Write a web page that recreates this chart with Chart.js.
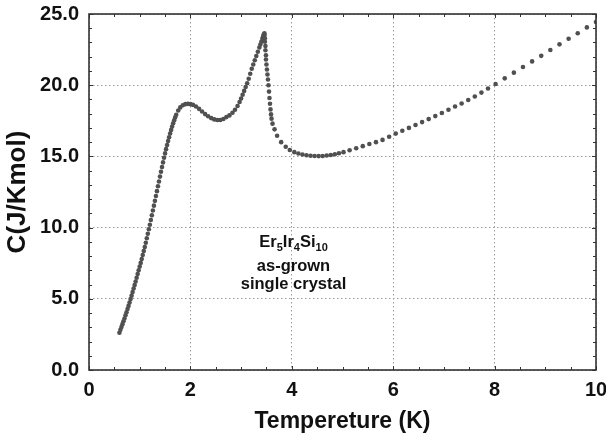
<!DOCTYPE html>
<html>
<head>
<meta charset="utf-8">
<script src="https://cdn.jsdelivr.net/npm/chart.js@4.4.1/dist/chart.umd.min.js"></script>
<style>
  html, body { margin: 0; padding: 0; background: #fff; }
  #wrap { width: 606px; height: 434px; position: relative; }
</style>
</head>
<body>
<div id="wrap"><canvas id="grafico"></canvas></div>
<script>
// temperatura (K) e calor especifico C (J/Kmol)
var temperatura = [
  0.60, 0.62, 0.64, 0.66, 0.68, 0.70, 0.72, 0.74, 0.76, 0.78, 0.80, 0.82, 0.84, 0.86, 0.88, 0.90,
  0.92, 0.94, 0.96, 0.98, 1.00, 1.02, 1.04, 1.06, 1.08, 1.10, 1.12, 1.14, 1.16, 1.18, 1.20, 1.22,
  1.24, 1.26, 1.28, 1.30, 1.32, 1.34, 1.36, 1.38, 1.40, 1.42, 1.44, 1.46, 1.48, 1.50, 1.52, 1.54,
  1.56, 1.58, 1.60, 1.62, 1.64, 1.66, 1.68, 1.70, 1.72, 1.76, 1.80, 1.85, 1.90, 1.95, 2.00, 2.05,
  2.11, 2.17, 2.23, 2.29, 2.35, 2.41, 2.47, 2.53, 2.59, 2.65, 2.71, 2.77, 2.83, 2.88, 2.93, 2.97,
  3.00, 3.03, 3.06, 3.09, 3.12, 3.15, 3.18, 3.21, 3.24, 3.27, 3.30, 3.33, 3.36, 3.38, 3.40, 3.42,
  3.43, 3.44, 3.45, 3.46, 3.46, 3.47, 3.47, 3.48, 3.48, 3.49, 3.49, 3.50, 3.51, 3.52, 3.53, 3.54,
  3.55, 3.56, 3.57, 3.58, 3.59, 3.60, 3.62, 3.66, 3.71, 3.79, 3.88, 3.96, 4.05, 4.13, 4.21, 4.29,
  4.37, 4.45, 4.53, 4.61, 4.69, 4.77, 4.85, 4.93, 5.02, 5.14, 5.27, 5.40, 5.53, 5.66, 5.79, 5.92,
  6.05, 6.18, 6.31, 6.44, 6.57, 6.70, 6.83, 6.96, 7.09, 7.22, 7.35, 7.48, 7.61, 7.74, 7.87, 8.02,
  8.20, 8.38, 8.56, 8.74, 8.92, 9.10, 9.28, 9.46, 9.64, 9.82, 10.00
]
var calor = [
  2.62, 2.82, 3.02, 3.22, 3.42, 3.62, 3.84, 4.05, 4.28, 4.50, 4.74, 4.98, 5.22, 5.47, 5.72, 5.97,
  6.22, 6.48, 6.74, 7.00, 7.26, 7.52, 7.80, 8.08, 8.36, 8.64, 8.94, 9.25, 9.57, 9.88, 10.20, 10.53,
  10.86, 11.20, 11.54, 11.88, 12.22, 12.56, 12.90, 13.24, 13.58, 13.92, 14.25, 14.58, 14.90, 15.21, 15.51, 15.80,
  16.08, 16.35, 16.61, 16.86, 17.10, 17.33, 17.54, 17.74, 17.92, 18.22, 18.44, 18.59, 18.67, 18.69, 18.67, 18.62,
  18.50, 18.34, 18.15, 17.97, 17.82, 17.69, 17.60, 17.56, 17.56, 17.63, 17.76, 17.88, 18.07, 18.28, 18.54, 18.82,
  19.07, 19.33, 19.60, 19.87, 20.14, 20.45, 20.80, 21.15, 21.45, 21.75, 22.05, 22.35, 22.65, 22.85, 23.05, 23.25,
  23.35, 23.48, 23.58, 23.64, 23.50, 23.30, 23.05, 22.75, 22.45, 22.10, 21.80, 21.45, 21.10, 20.75, 20.40, 20.00,
  19.55, 19.10, 18.70, 18.30, 17.95, 17.65, 17.30, 16.90, 16.45, 16.00, 15.68, 15.45, 15.30, 15.20, 15.13, 15.08,
  15.05, 15.03, 15.02, 15.03, 15.06, 15.10, 15.15, 15.22, 15.30, 15.43, 15.57, 15.72, 15.87, 16.00, 16.16, 16.38,
  16.60, 16.80, 17.00, 17.20, 17.41, 17.62, 17.83, 18.05, 18.28, 18.50, 18.72, 18.96, 19.21, 19.48, 19.77, 20.08,
  20.48, 20.88, 21.28, 21.67, 22.06, 22.47, 22.87, 23.26, 23.65, 24.06, 24.44
]

var ticksX = [0, 2, 4, 6, 8, 10]
var ticksY = [0, 5, 10, 15, 20, 25]

var pontos = []
for (var i = 0; i < temperatura.length; i++) {
  pontos.push({ x: temperatura[i], y: calor[i] })
}

var fonte = '"Liberation Sans", Arial, sans-serif'

// moldura com tracinhos para dentro, nos quatro lados
var moldura = {
  id: 'moldura',
  afterDraw: function (chart) {
    var ctx = chart.ctx
    var a = chart.chartArea
    var sx = chart.scales.x
    var sy = chart.scales.y
    ctx.save()
    ctx.setLineDash([])
    ctx.strokeStyle = '#333'
    ctx.lineWidth = 1
    for (var t = 0; t <= 10.001; t += 0.5) {
      var px = Math.round(sx.getPixelForValue(t)) + 0.5
      var len = (Math.abs(t % 2) < 0.01) ? 4 : 3
      ctx.beginPath()
      ctx.moveTo(px, a.bottom); ctx.lineTo(px, a.bottom - len)
      ctx.moveTo(px, a.top); ctx.lineTo(px, a.top + len)
      ctx.stroke()
    }
    for (var c = 0; c <= 25.001; c += 1) {
      var py = Math.round(sy.getPixelForValue(c)) + 0.5
      var l2 = (c % 5 === 0) ? 4 : 3
      ctx.beginPath()
      ctx.moveTo(a.left, py); ctx.lineTo(a.left + l2, py)
      ctx.moveTo(a.right, py); ctx.lineTo(a.right - l2, py)
      ctx.stroke()
    }
    ctx.lineWidth = 1.6
    ctx.strokeRect(a.left, a.top, a.right - a.left, a.bottom - a.top)

    // legenda do composto
    var cx = 293.5
    var partes = [['Er', false], ['5', true], ['Ir', false], ['4', true], ['Si', false], ['10', true]]
    var larg = 0
    partes.forEach(function (p) {
      ctx.font = 'bold ' + (p[1] ? 11 : 16.5) + 'px ' + fonte
      larg += ctx.measureText(p[0]).width
    })
    var x0 = cx - larg / 2
    ctx.fillStyle = '#111'
    ctx.textBaseline = 'alphabetic'
    ctx.textAlign = 'left'
    partes.forEach(function (p) {
      ctx.font = 'bold ' + (p[1] ? 11 : 16.5) + 'px ' + fonte
      ctx.fillText(p[0], x0, p[1] ? 251 : 247)
      x0 += ctx.measureText(p[0]).width
    })
    ctx.font = 'bold 16.5px ' + fonte
    ctx.textAlign = 'center'
    ctx.fillText('as-grown', cx, 270.5)
    ctx.fillText('single crystal', cx, 288.5)
    ctx.restore()
  }
}

var ctx1 = document.getElementById('grafico').getContext('2d')

new Chart(ctx1, {
  type: 'scatter',
  data: {
    datasets: [{
      data: pontos,
      backgroundColor: '#505050',
      borderWidth: 0,
      pointRadius: 2.3,
      pointHoverRadius: 2.3
    }]
  },
  options: {
    responsive: true,
    maintainAspectRatio: false,
    animation: false,
    events: [],
    layout: { padding: { top: 14, right: 10, left: 0, bottom: 0 }, autoPadding: false },
    plugins: { legend: { display: false }, tooltip: { enabled: false } },
    scales: {
      x: {
        type: 'linear',
        min: 0,
        max: 10,
        afterBuildTicks: function (s) { s.ticks = ticksX.map(function (v) { return { value: v } }) },
        afterFit: function (s) { s.height = 64; s.paddingLeft = 0; s.paddingRight = 0 },
        ticks: {
          color: '#111',
          padding: 8,
          font: { family: fonte, size: 20, weight: 'bold' },
          maxRotation: 0
        },
        grid: { color: '#9a9a9a', lineWidth: 1, drawTicks: false },
        border: { display: false, dash: [1.5, 2.5] },
        title: {
          display: true,
          text: 'Tempereture (K)',
          color: '#111',
          padding: { top: 0, bottom: 1 },
          font: { family: fonte, size: 23, weight: 'bold', lineHeight: 1.0 }
        }
      },
      y: {
        type: 'linear',
        min: 0,
        max: 25,
        afterBuildTicks: function (s) { s.ticks = ticksY.map(function (v) { return { value: v } }) },
        afterFit: function (s) { s.width = 89; s.paddingTop = 0; s.paddingBottom = 0 },
        ticks: {
          color: '#111',
          padding: 10,
          font: { family: fonte, size: 20, weight: 'bold' },
          callback: function (v) { return v.toFixed(1) }
        },
        grid: { color: '#9a9a9a', lineWidth: 1, drawTicks: false },
        border: { display: false, dash: [1.5, 2.5] },
        title: {
          display: true,
          text: 'C(J/Kmol)',
          color: '#111',
          padding: { top: 5, bottom: 0 },
          font: { family: fonte, size: 26, weight: 'bold', lineHeight: 1.0 }
        }
      }
    }
  },
  plugins: [moldura]
})
</script>
</body>
</html>
